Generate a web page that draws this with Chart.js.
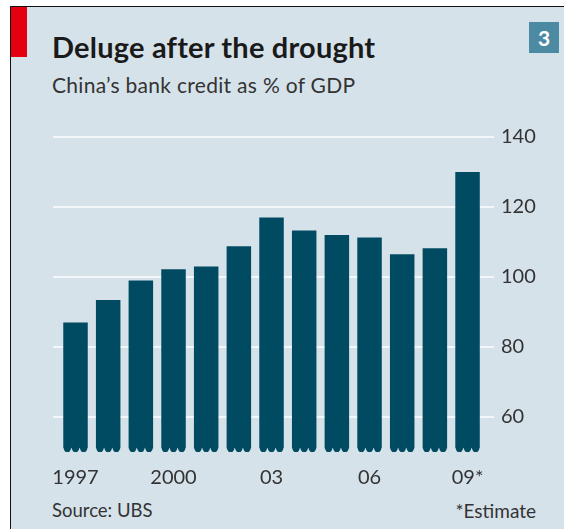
<!DOCTYPE html>
<html>
<head>
<meta charset="utf-8">
<script src="https://cdn.jsdelivr.net/npm/chart.js@4"></script>
<style>
  html, body { margin:0; padding:0; background:#ffffff; }
  body { width:564px; height:529px; position:relative; overflow:hidden; font-family: Lato, "Open Sans", sans-serif; }
  #frame { position:absolute; left:10px; top:6px; width:554px; height:523px; background:#d6e2ea; border-left:1px solid #111; border-top:1px solid #111; box-sizing:border-box; }
  #red { position:absolute; left:11px; top:7px; width:16px; height:50px; background:#e3000f; }
  #num { position:absolute; left:529px; top:22px; width:30px; height:31px; background:#4b8aa2; color:#fff; font-weight:bold; font-size:21px; line-height:31px; text-align:center; }
  #title { position:absolute; left:52px; top:29px; font-size:29px; font-weight:bold; color:#1a1a1a; white-space:nowrap; letter-spacing:0.2px; }
  #sub { position:absolute; left:52px; top:72px; font-size:21px; color:#333; white-space:nowrap; letter-spacing:0.3px; }
  #src { position:absolute; left:52px; top:499px; font-size:18.5px; color:#333; white-space:nowrap; }
  #est { position:absolute; right:28px; top:499px; font-size:19px; color:#333; white-space:nowrap; }
  canvas { position:absolute; left:0; top:0; }
</style>
</head>
<body>
<div id="frame"></div>
<div id="red"></div>
<div id="num">3</div>
<div id="title">Deluge after the drought</div>
<div id="sub">China’s bank credit as % of GDP</div>
<div id="src">Source: UBS</div>
<div id="est">*Estimate</div>
<canvas id="c" width="564" height="529"></canvas>
<script>
const years = ['1997','1998','1999','2000','2001','2002','2003','2004','2005','2006','2007','2008','2009'];
const creditPctGDP = [87, 93.4, 99, 102.2, 103, 108.8, 117, 113.3, 112, 111.3, 106.5, 108.2, 130];
const xTickLabels = ['1997','','','2000','','','03','','','06','','','09*'];
const yTickValues = [60, 80, 100, 120, 140];

const BG = '#d6e2ea';
const BAR = '#004b62';

const notchPlugin = {
  id: 'notch',
  afterDatasetsDraw(chart) {
    const ctx = chart.ctx;
    const meta = chart.getDatasetMeta(0);
    const bottom = chart.chartArea.bottom;
    ctx.save();
    ctx.fillStyle = BG;
    meta.data.forEach(bar => {
      const w = bar.width;
      const left = bar.x - w / 2;
      const seg = w / 3;
      for (let k = 0; k <= 3; k++) {
        const cx = left + k * seg;
        ctx.beginPath();
        ctx.moveTo(cx - seg / 2, bottom + 1);
        ctx.quadraticCurveTo(cx - seg * 0.15, bottom, cx, bottom - 4.5);
        ctx.quadraticCurveTo(cx + seg * 0.15, bottom, cx + seg / 2, bottom + 1);
        ctx.closePath();
        ctx.fill();
      }
    });
    ctx.restore();
  }
};

new Chart(document.getElementById('c'), {
  type: 'bar',
  data: {
    datasets: [{
      data: creditPctGDP.map((v, i) => ({ x: i, y: v })),
      backgroundColor: BAR,
      borderWidth: 0,
      barPercentage: 0.75,
      categoryPercentage: 1.0,
      base: 50
    }]
  },
  options: {
    responsive: false,
    animation: false,
    events: [],
    layout: { padding: { left: 53, right: 0, top: 137, bottom: 37 } },
    plugins: { legend: { display: false }, tooltip: { enabled: false }, title: { display: false } },
    scales: {
      x: {
        type: 'linear',
        offset: false,
        min: -0.689,
        max: 12.81,
        afterBuildTicks(axis) { axis.ticks = years.map((_, i) => ({ value: i })); },
        afterFit(axis) { axis.height = 40; },
        grid: { display: false, drawTicks: false, offset: false },
        border: { display: false },
        ticks: {
          autoSkip: false,
          maxRotation: 0,
          padding: 14,
          color: '#333',
          font: { family: 'Lato', size: 20 },
          callback: (v, i) => xTickLabels[i]
        }
      },
      y: {
        position: 'right',
        min: 50,
        max: 140,
        afterBuildTicks(axis) { axis.ticks = yTickValues.map(v => ({ value: v })); },
        afterFit(axis) { axis.width = 70; },
        grid: { color: '#f4f7f9', lineWidth: 2, drawTicks: false },
        border: { display: false },
        ticks: {
          padding: 7,
          color: '#333',
          font: { family: 'Lato', size: 20 }
        }
      }
    }
  },
  plugins: [notchPlugin]
});
</script>
</body>
</html>
